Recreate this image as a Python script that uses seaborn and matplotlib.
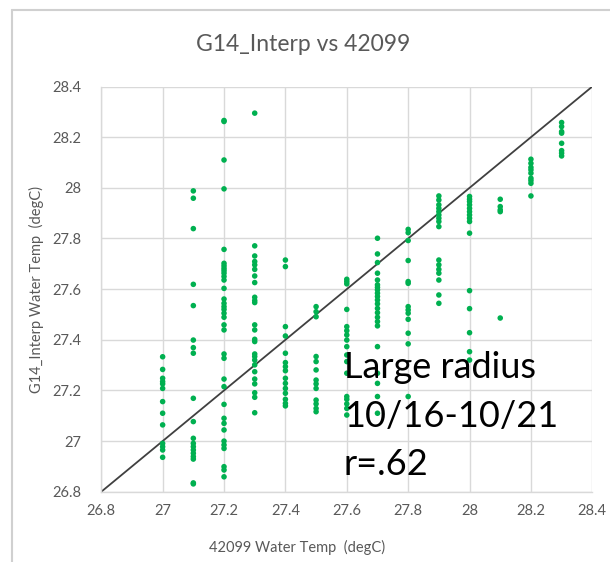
import matplotlib
matplotlib.use("Agg")
import matplotlib.pyplot as plt
from matplotlib.lines import Line2D
import numpy as np
import pandas as pd
import seaborn as sns

# Buoy 42099 water temperature (x) and the matching G14_Interp values (y)
y_27_0 = [27.333, 27.283, 27.248, 27.235, 27.226, 27.208, 27.156, 27.110, 27.064,
          26.991, 26.978, 26.965, 26.936]
y_27_1 = [27.988, 27.959, 27.839, 27.619, 27.535, 27.399, 27.369, 27.347, 27.169,
          27.077, 27.011, 26.991, 26.978, 26.965, 26.952, 26.939, 26.929, 26.835, 26.831]
y_27_2 = [28.266, 28.262, 28.110, 27.996, 27.757, 27.702, 27.692, 27.682, 27.673,
          27.663, 27.650, 27.636, 27.603, 27.561, 27.544, 27.531, 27.520, 27.505,
          27.489, 27.459, 27.439, 27.344, 27.327, 27.245, 27.215, 27.145, 27.090,
          27.070, 27.044, 27.000, 26.985, 26.971, 26.899, 26.886, 26.859]
y_27_3 = [28.295, 27.771, 27.731, 27.709, 27.696, 27.678, 27.652, 27.626, 27.568,
          27.555, 27.547, 27.459, 27.439, 27.402, 27.393, 27.344, 27.334, 27.320,
          27.301, 27.274, 27.245, 27.226, 27.191, 27.173, 27.112]
y_27_4 = [27.715, 27.689, 27.452, 27.415, 27.347, 27.310, 27.294, 27.278, 27.248,
          27.228, 27.208, 27.189, 27.165, 27.149, 27.139]
y_27_5 = [27.531, 27.511, 27.491, 27.334, 27.314, 27.281, 27.241, 27.226, 27.208,
          27.162, 27.147, 27.129, 27.116]
y_27_6 = [27.639, 27.630, 27.621, 27.520, 27.452, 27.436, 27.419, 27.399, 27.373,
          27.340, 27.314, 27.268, 27.176, 27.165, 27.147, 27.129, 27.103]
y_27_7 = [27.801, 27.739, 27.705, 27.663, 27.636, 27.617, 27.607, 27.597, 27.584,
          27.571, 27.557, 27.542, 27.524, 27.507, 27.489, 27.472, 27.455, 27.373,
          27.268, 27.228, 27.176, 27.110]
y_27_8 = [27.836, 27.823, 27.792, 27.713, 27.630, 27.623, 27.531, 27.518, 27.505,
          27.481, 27.426, 27.384, 27.176]
y_27_9 = [27.968, 27.952, 27.933, 27.919, 27.906, 27.893, 27.880, 27.867, 27.847,
          27.715, 27.696, 27.678, 27.663, 27.636, 27.577, 27.544]
y_28_0 = [27.966, 27.955, 27.946, 27.933, 27.919, 27.906, 27.893, 27.880, 27.867,
          27.821, 27.594, 27.523, 27.428, 27.353, 27.320]
y_28_1 = [27.955, 27.926, 27.913, 27.906, 27.486]
y_28_2 = [28.113, 28.097, 28.081, 28.071, 28.058, 28.038, 28.029, 28.018, 27.968]
y_28_3 = [28.258, 28.242, 28.222, 28.216, 28.176, 28.147, 28.137, 28.126]

buoy_temps = [27.0, 27.1, 27.2, 27.3, 27.4, 27.5, 27.6, 27.7, 27.8, 27.9,
              28.0, 28.1, 28.2, 28.3]
interp_columns = [y_27_0, y_27_1, y_27_2, y_27_3, y_27_4, y_27_5, y_27_6,
                  y_27_7, y_27_8, y_27_9, y_28_0, y_28_1, y_28_2, y_28_3]

tick_values = [26.8, 27.0, 27.2, 27.4, 27.6, 27.8, 28.0, 28.2, 28.4]
tick_labels = ["26.8", "27", "27.2", "27.4", "27.6", "27.8", "28", "28.2", "28.4"]

note_lines = ["Large radius", "10/16-10/21", "r=.62"]

df = pd.DataFrame({
    "x": np.concatenate([[bx] * len(col) for bx, col in zip(buoy_temps, interp_columns)]),
    "y": np.concatenate(interp_columns),
})

sns.set_theme(style="white")
plt.rcParams["font.family"] = ["Lato", "DejaVu Sans"]

GRAY = "#595959"
GRID = "#d9d9d9"

fig = plt.figure(figsize=(6.10, 5.62), dpi=100)
ax = fig.add_axes([0.166, 0.125, 0.805, 0.721])

# chart-area border
fig.add_artist(Line2D([0.020, 0.020], [0.0, 0.982], transform=fig.transFigure,
                      color="#d0d0d0", lw=1.5))
fig.add_artist(Line2D([0.020, 1.0], [0.982, 0.982], transform=fig.transFigure,
                      color="#d0d0d0", lw=1.5))

sns.scatterplot(data=df, x="x", y="y", ax=ax, color="#00b050", s=16,
                edgecolor="none", linewidth=0, zorder=3)

ax.set_xlim(26.8, 28.4)
ax.set_ylim(26.8, 28.4)
ax.set_xticks(tick_values)
ax.set_xticklabels(tick_labels)
ax.set_yticks(tick_values)
ax.set_yticklabels(tick_labels)
ax.grid(True, color=GRID, lw=1.0)
ax.set_axisbelow(True)
for side in ["top", "right"]:
    ax.spines[side].set_visible(False)
for side in ["left", "bottom"]:
    ax.spines[side].set_color(GRID)
    ax.spines[side].set_linewidth(1.0)

# 1:1 reference line
ax.plot([26.8, 28.4], [26.8, 28.4], color="#404040", lw=1.3, zorder=2)

ax.tick_params(axis="both", length=0, labelsize=10.5, labelcolor=GRAY)
ax.tick_params(axis="y", pad=14)
ax.tick_params(axis="x", pad=9)

ax.set_xlabel("")
ax.set_ylabel("G14_Interp Water Temp  (degC)", fontsize=10.5, color=GRAY, labelpad=6)
fig.text(0.487, 0.025, "42099 Water Temp  (degC)", fontsize=10.5, color=GRAY,
         ha="center", va="center")
fig.text(0.497, 0.921, "G14_Interp vs 42099", fontsize=16.5, color=GRAY,
         ha="center", va="center")

# annotation block, one line per baseline
for line, yb in zip(note_lines, [27.249, 27.055, 26.865]):
    ax.text(27.59, yb, line, fontsize=26, color="black", ha="left",
            va="baseline", zorder=5)

fig.savefig("out.png", dpi=100)
